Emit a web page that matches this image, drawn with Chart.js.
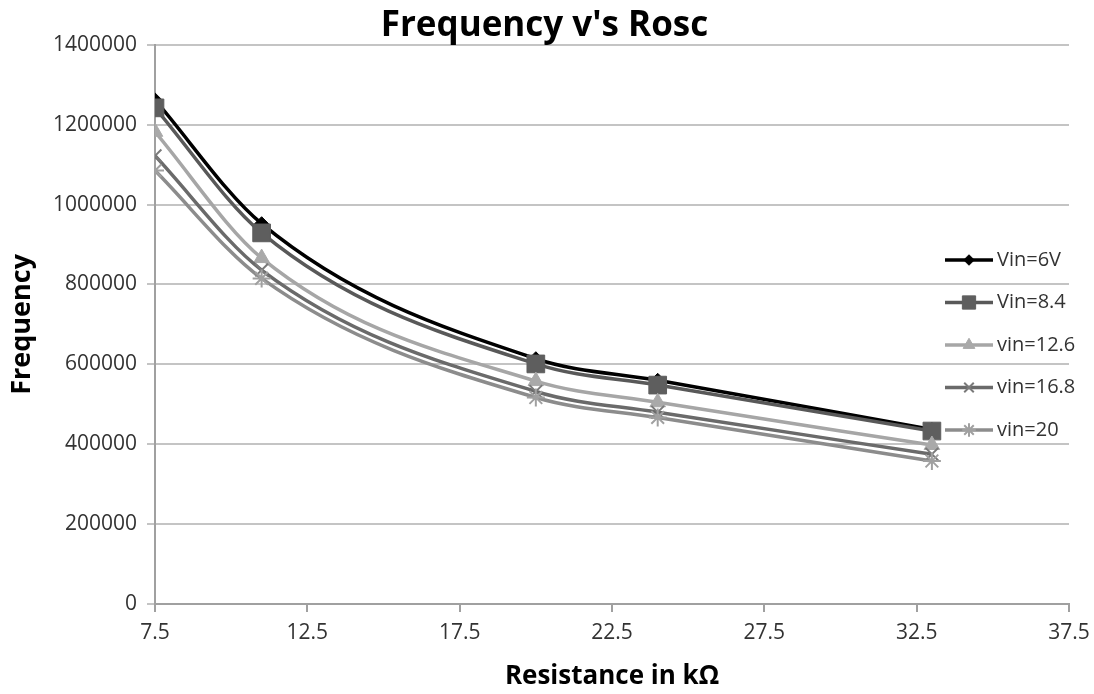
<!DOCTYPE html>
<html>
<head>
<meta charset="utf-8">
<script src="https://cdn.jsdelivr.net/npm/chart.js@4.4.0/dist/chart.umd.min.js"></script>
<style>
  html, body { margin: 0; padding: 0; background: #fff; }
  #wrap { width: 1094px; height: 694px; }
</style>
</head>
<body>
<div id="wrap"><canvas id="chart"></canvas></div>
<script>
// resistance values (kOhm) and measured frequency for each input voltage
const resistance = [7.5, 11, 20, 24, 33];
const seriesNames = ['Vin=6V', 'Vin=8.4', 'vin=12.6', 'vin=16.8', 'vin=20'];
const vin6 = [1262000, 952000, 614000, 560000, 437000];
const vin84 = [1242000, 929000, 601000, 548000, 433000];
const vin126 = [1182000, 866000, 558000, 505000, 398000];
const vin168 = [1122000, 836000, 532000, 480000, 375000];
const vin20 = [1085000, 815000, 517000, 467000, 358000];
const xTicks = [7.5, 12.5, 17.5, 22.5, 27.5, 32.5, 37.5];
const yTicks = [0, 200000, 400000, 600000, 800000, 1000000, 1200000, 1400000];

const seriesValues = [vin6, vin84, vin126, vin168, vin20];
const lineColors = ['#000000', '#595959', '#a6a6a6', '#6a6a6a', '#8c8c8c'];
const markerColors = ['#000000', '#5e5e5e', '#a9a9a9', '#7a7a7a', '#a0a0a0'];
const markerStyles = ['rectRot', 'rect', 'triangle', 'crossRot', 'star'];
const markerSizes = [7, 12.5, 9, 9, 9];

const font = "'Open Sans', sans-serif";

const datasets = seriesNames.map((name, i) => ({
    label: name,
    data: resistance.map((r, j) => ({ x: r, y: seriesValues[i][j] })),
    borderColor: lineColors[i],
    backgroundColor: markerColors[i],
    pointBorderColor: markerColors[i],
    pointBackgroundColor: markerColors[i],
    pointStyle: markerStyles[i],
    pointRadius: markerSizes[i],
    pointBorderWidth: (markerStyles[i] === 'crossRot' || markerStyles[i] === 'star') ? 2 : 1,
    borderWidth: 3.5,
    cubicInterpolationMode: 'monotone',
    fill: false,
    order: seriesNames.length - i // later series on top, like the original
}));

// legend drawn inside the plot area, line + marker like the original
const insideLegend = {
    id: 'insideLegend',
    afterDraw(chart) {
        const ctx = chart.ctx;
        ctx.save();
        seriesNames.forEach((name, i) => {
            const y = 260 + i * 42.5;
            ctx.strokeStyle = lineColors[i];
            ctx.lineWidth = 3.5;
            ctx.beginPath();
            ctx.moveTo(945, y);
            ctx.lineTo(993, y);
            ctx.stroke();
            ctx.fillStyle = markerColors[i];
            ctx.strokeStyle = markerColors[i];
            ctx.lineWidth = datasets[i].pointBorderWidth;
            Chart.helpers.drawPoint(ctx, {
                pointStyle: markerStyles[i],
                radius: markerSizes[i] * 0.75,
                rotation: 0,
                borderWidth: datasets[i].pointBorderWidth
            }, 969, y);
            ctx.fillStyle = '#333333';
            ctx.font = '20px ' + font;
            ctx.textBaseline = 'middle';
            ctx.textAlign = 'left';
            ctx.fillText(name, 997, y);
        });
        ctx.restore();
    }
};

new Chart(document.getElementById('chart'), {
    type: 'line',
    data: { datasets: datasets },
    options: {
        responsive: true,
        maintainAspectRatio: false,
        animation: false,
        layout: { padding: { left: 20, right: 25, top: 0, bottom: 0 } },
        plugins: {
            legend: { display: false },
            tooltip: { enabled: false },
            title: {
                display: true,
                text: "Frequency v's Rosc",
                color: '#000',
                font: { family: font, size: 35, weight: 'bold', lineHeight: 1.05 },
                padding: { top: 8, bottom: 0 }
            }
        },
        scales: {
            x: {
                type: 'linear',
                min: 7.5,
                max: 37.5,
                afterBuildTicks: scale => { scale.ticks = xTicks.map(v => ({ value: v })); },
                afterFit: scale => { scale.height = 90; scale.paddingRight = 5; scale.paddingLeft = 5; },
                ticks: {
                    color: '#333',
                    font: { family: font, size: 21 },
                    padding: 8,
                    callback: v => String(v)
                },
                grid: { drawOnChartArea: false, color: '#a0a0a0', tickLength: 8, lineWidth: 2 },
                border: { color: '#a0a0a0', width: 2 },
                title: {
                    display: true,
                    text: 'Resistance in kΩ',
                    color: '#000',
                    font: { family: font, size: 26, weight: 'bold' },
                    padding: { top: 10, bottom: 2 }
                }
            },
            y: {
                min: 0,
                max: 1400000,
                afterBuildTicks: scale => { scale.ticks = yTicks.map(v => ({ value: v })); },
                afterFit: scale => { scale.width = 135; },
                ticks: {
                    color: '#333',
                    font: { family: font, size: 21 },
                    padding: 10,
                    callback: v => String(v)
                },
                grid: { color: '#c4c4c4', tickLength: 8, lineWidth: 2 },
                border: { color: '#a0a0a0', width: 2 },
                title: {
                    display: true,
                    text: 'Frequency',
                    color: '#000',
                    font: { family: font, size: 27, weight: 'bold' },
                    padding: { top: -14, bottom: 0 }
                }
            }
        }
    },
    plugins: [insideLegend]
});
</script>
</body>
</html>
